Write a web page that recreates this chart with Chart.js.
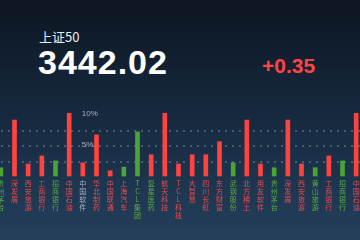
<!DOCTYPE html>
<html>
<head>
<meta charset="utf-8">
<script src="https://cdn.jsdelivr.net/npm/chart.js@4.4.1/dist/chart.umd.min.js"></script>
<style>
  html, body { margin: 0; padding: 0; }
  body {
    width: 360px; height: 240px; overflow: hidden; position: relative;
    background: linear-gradient(180deg, #0d1622 0%, #172a40 50%, #243f5c 100%);
    font-family: "Liberation Sans", Arial, sans-serif;
  }
  .name { position: absolute; left: 39px; top: 30px; font: 13px "Noto Sans CJK SC", sans-serif; color: #e9eef4; line-height: 1; }
  .price { position: absolute; left: 38px; top: 45px; font-weight: bold; font-size: 34px; line-height: 1; color: #fff; letter-spacing: 1px; }
  .chg { position: absolute; left: 262px; top: 55px; font-weight: bold; font-size: 21px; line-height: 1; color: #ff4444; }
  #wrap { position: absolute; left: -6px; top: 100px; width: 369px; height: 140px; }
</style>
</head>
<body>
<div class="name">上证50</div>
<div class="price">3442.02</div>
<div class="chg">+0.35</div>
<div id="wrap"><canvas id="chartTicker"></canvas></div>
<script>
// dados do painel
var stocks = ['贵州茅台','深发展','西安旅游','工商银行','招商银行','中国石油','中国软件','华北制药','中国联通','上海汽车',
              'TCL集团','复星医药','航天科技','TCL科技','大智慧','四川长虹','东方财富','武钢股份','北方稀土','用友软件',
              '贵州茅台','深发展','西安旅游','黄山旅游','工商银行','招商银行','中国石油'];
var moves = [1.5, 9.2, 2.1, 3.4, 2.6, 10.3, 2.3, 6.8, 1.0, 1.6,
             7.3, 3.6, 10.3, 2.1, 3.6, 3.6, 5.7, 2.3, 9.2, 2.1,
             1.5, 9.2, 2.1, 1.5, 3.4, 2.6, 10.3];
var barSide = ['d','u','u','u','d','u','u','u','u','d',
               'd','u','u','u','u','u','u','d','u','u',
               'd','u','u','d','u','d','u'];
var labelSide = ['d','u','u','u','d','u','n','u','u','u',
                 'd','d','u','u','u','u','u','d','u','u',
                 'd','u','u','d','u','d','u'];
var yTickLabels = [10, 5];

var RED = '#ff4440', GREEN = '#4aa534';
var labelColors = { u: '#ee4a4c', d: '#58ad3c', n: '#a8b1bb' };

var yLabels = {
    id: 'yLabels',
    afterDatasetsDraw: function(chart) {
        var ctx = chart.ctx;
        var x = chart.scales.x.getPixelForValue(6) - 1;
        ctx.save();
        ctx.font = '8px "Liberation Sans", sans-serif';
        ctx.fillStyle = '#aab2bc';
        ctx.textBaseline = 'middle';
        yTickLabels.forEach(function(v) {
            ctx.fillText(v + '%', x, chart.scales.y.getPixelForValue(v) - 1);
        });
        ctx.restore();
    }
};

var mainCanvas = document.getElementById('chartTicker');
var chart = new Chart(mainCanvas, {
    type: 'bar',
    data: {
        labels: stocks,
        datasets: [{
            data: moves,
            backgroundColor: barSide.map(function(s) { return s == 'u' ? RED : GREEN; }),
            borderWidth: 0,
            barThickness: 4
        }]
    },
    options: {
        responsive: true,
        maintainAspectRatio: false,
        animation: false,
        layout: { padding: { top: 12, left: 0, right: 0, bottom: 0 } },
        plugins: { legend: { display: false }, tooltip: { enabled: false } },
        scales: {
            x: {
                grid: { display: false, drawTicks: false },
                border: { display: false },
                afterFit: function(s) { s.height = 63; },
                ticks: {
                    autoSkip: false,
                    maxRotation: 0,
                    padding: 2,
                    font: { family: '"Noto Sans CJK SC", sans-serif', size: 7, lineHeight: 1.14 },
                    color: function(c) { return labelColors[labelSide[c.index]]; },
                    callback: function(v, i) { return stocks[i].split(''); }
                }
            },
            y: {
                min: 0,
                max: 10.5,
                afterFit: function(s) { s.width = 0; },
                ticks: { display: false, stepSize: 2.5 },
                border: { display: false, dash: [2, 5] },
                grid: {
                    drawTicks: false,
                    lineWidth: 2,
                    color: function(c) {
                        var v = c.tick ? c.tick.value : 0;
                        return (v > 0 && v <= 10) ? 'rgba(100,122,148,0.6)' : 'rgba(0,0,0,0)';
                    }
                }
            }
        }
    },
    plugins: [yLabels]
});
</script>
</body>
</html>
